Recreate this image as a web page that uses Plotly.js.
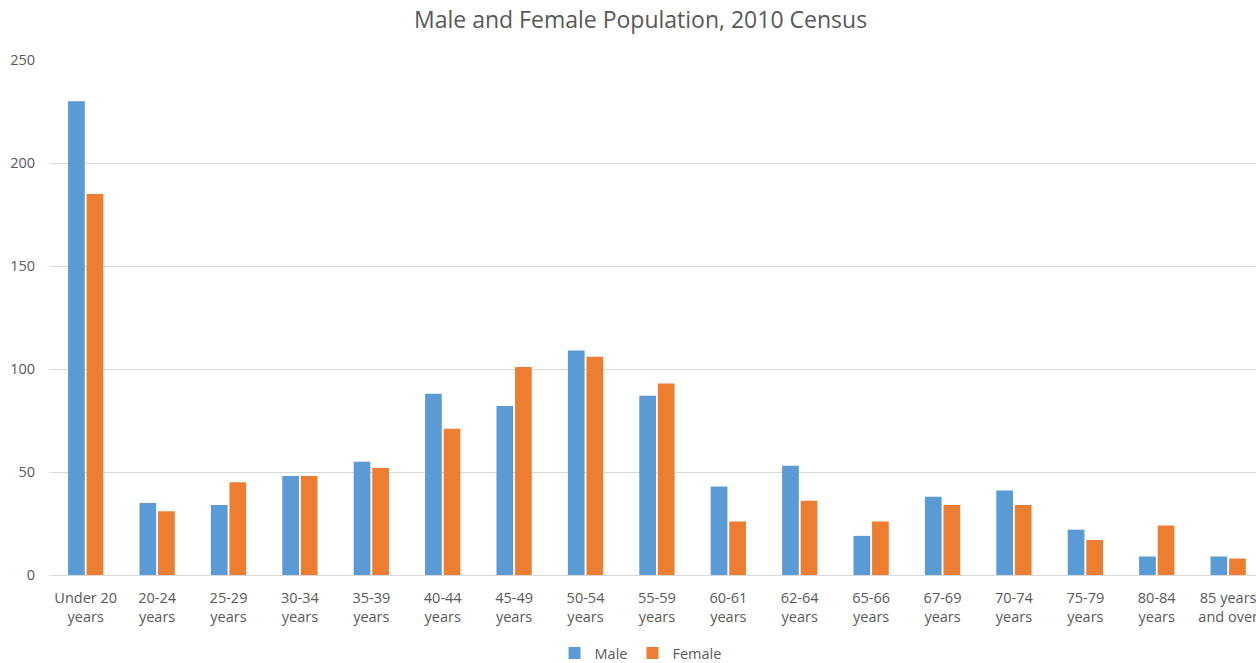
<!DOCTYPE html>
<html>
<head>
<meta charset="utf-8">
<script src="https://cdn.plot.ly/plotly-3.0.1.min.js"></script>
<style>html,body{margin:0;padding:0;background:#fff;}#chart{width:1256px;height:663px;}</style>
</head>
<body>
<div id="chart"></div>
<script>
const categories = ["Under 20<br>years","20-24<br>years","25-29<br>years","30-34<br>years","35-39<br>years","40-44<br>years","45-49<br>years","50-54<br>years","55-59<br>years","60-61<br>years","62-64<br>years","65-66<br>years","67-69<br>years","70-74<br>years","75-79<br>years","80-84<br>years","85 years<br>and over"];
const maleValues = [230,35,34,48,55,88,82,109,87,43,53,19,38,41,22,9,9];
const femaleValues = [185,31,45,48,52,71,101,106,93,26,36,26,34,34,17,24,8];
const yTickVals = [0,50,100,150,200,250];

const traces = [
  {type:'bar', name:'Male', x:categories, y:maleValues, marker:{color:'#5B9BD5'}},
  {type:'bar', name:'Female', x:categories, y:femaleValues, marker:{color:'#ED7D31'}}
];
const layout = {
  width:1256, height:663,
  margin:{l:50, r:0, t:60, b:88, autoexpand:false},
  paper_bgcolor:'#fff', plot_bgcolor:'#fff',
  font:{family:'Open Sans, sans-serif', color:'#595959', size:14},
  title:{text:'Male and Female Population, 2010 Census', x:0.51, xref:'container', xanchor:'center', y:0.97, yref:'container', yanchor:'middle', font:{size:23, color:'#595959'}},
  barmode:'group', bargap:0.48, bargroupgap:0.1,
  xaxis:{range:[-0.5,16.39], showgrid:false, showline:true, linecolor:'#d9d9d9', ticks:'', ticklabelstandoff:10, tickfont:{size:14.5, color:'#595959'}},
  yaxis:{range:[0,250], tickvals:yTickVals, showgrid:true, gridcolor:'#d9d9d9', zeroline:false, ticks:'', ticklabelstandoff:14, tickfont:{size:14.5, color:'#595959'}},
  legend:{orientation:'h', x:0.51, xref:'container', xanchor:'center', y:0.015, yref:'container', yanchor:'middle', font:{size:14.5, color:'#595959'}, itemwidth:30, bgcolor:'rgba(0,0,0,0)'}
};
Plotly.newPlot('chart', traces, layout, {displayModeBar:false, staticPlot:true});
</script>
</body>
</html>
